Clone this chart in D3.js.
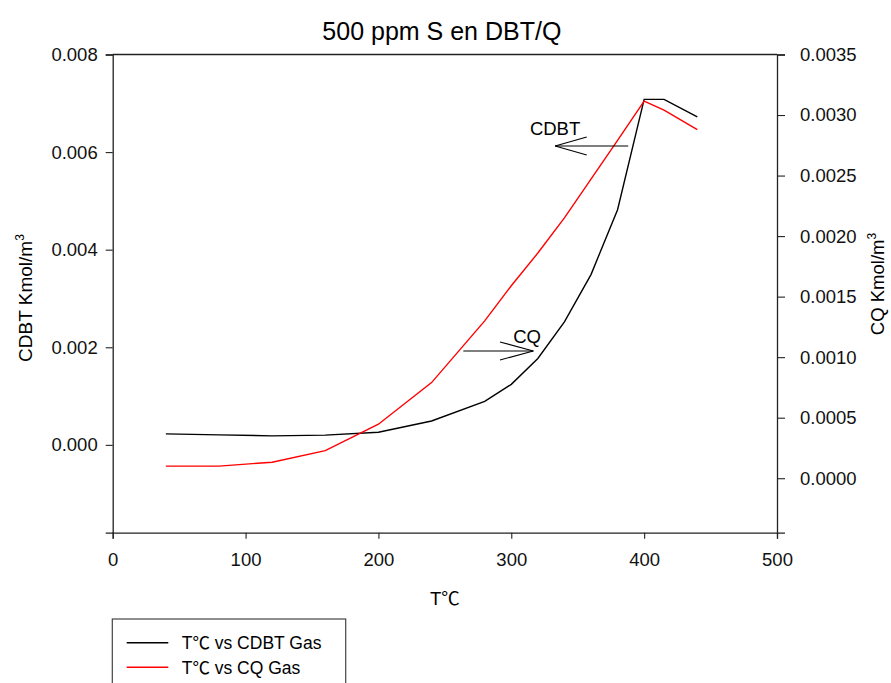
<!DOCTYPE html>
<html><head><meta charset="utf-8">
<script src="https://cdn.jsdelivr.net/npm/d3@7/dist/d3.min.js"></script>
<style>body{margin:0;background:#fff}svg{display:block;font-family:"Liberation Sans",Arial,sans-serif}.cjk{font-family:"Noto Sans CJK SC",sans-serif}</style>
</head><body>
<svg id="c" width="891" height="683"></svg>
<script>
const temps   = [40, 80, 120, 160, 200, 240, 280, 300, 320, 340, 360, 380, 400, 415, 440];
const cdbt    = [0.000225, 0.000205, 0.000185, 0.000200, 0.000260, 0.000490, 0.000890, 0.001240, 0.001770, 0.002520, 0.003490, 0.004820, 0.007080, 0.007080, 0.006720];
const cq      = [0.000100, 0.000100, 0.000132, 0.000228, 0.000446, 0.000790, 0.001300, 0.001590, 0.001860, 0.002150, 0.002470, 0.002790, 0.003115, 0.003040, 0.002880];
const xTicks  = [0, 100, 200, 300, 400, 500];
const yLTicks = [0.000, 0.002, 0.004, 0.006, 0.008];
const yRTicks = [0.0000, 0.0005, 0.0010, 0.0015, 0.0020, 0.0025, 0.0030, 0.0035];
const seriesNames = [" vs CDBT Gas", " vs CQ Gas"];

const svg = d3.select("#c");
const L = 112.7, R = 777, T = 54.5, B = 532.7;
const x  = d3.scaleLinear().domain([0, 500]).range([L, R]);
const yL = d3.scaleLinear().domain([-0.0018, 0.008]).range([B, T]);
const yR = d3.scaleLinear().domain([-0.00045, 0.0035]).range([B, T]);

const axCol = "#222";
svg.append("line").attr("x1", L).attr("x2", R).attr("y1", T).attr("y2", T).attr("stroke", axCol).attr("stroke-width", 1.3);

function styleAxis(g){
  g.select(".domain").attr("stroke", axCol).attr("stroke-width", 1.3);
  g.selectAll(".tick line").attr("stroke", axCol).attr("stroke-width", 1.1);
  g.selectAll(".tick text").attr("fill", "#111").style("font-size", "18.5px").style("font-family", '"Liberation Sans",Arial,sans-serif');
}
svg.append("g").attr("transform", `translate(0,${B})`)
  .call(d3.axisBottom(x).tickValues(xTicks).tickFormat(d3.format("d")).tickSizeOuter(0).tickSize(6).tickPadding(14))
  .call(styleAxis);
svg.append("g").attr("transform", `translate(${L},0)`)
  .call(d3.axisLeft(yL).tickValues(yLTicks).tickFormat(d3.format(".3f")).tickSizeOuter(0).tickSize(7).tickPadding(8))
  .call(styleAxis);
svg.append("g").attr("transform", `translate(${R},0)`)
  .call(d3.axisRight(yR).tickValues(yRTicks).tickFormat(d3.format(".4f")).tickSizeOuter(0).tickSize(8).tickPadding(15))
  .call(styleAxis);

const lineL = d3.line().x((d, i) => x(temps[i])).y(d => yL(d));
const lineR = d3.line().x((d, i) => x(temps[i])).y(d => yR(d));
svg.append("path").attr("d", lineL(cdbt)).attr("fill", "none").attr("stroke", "#000").attr("stroke-width", 1.4);
svg.append("path").attr("d", lineR(cq)).attr("fill", "none").attr("stroke", "#ff0000").attr("stroke-width", 1.4);

function arrow(x1, x2, xh, yPix){
  const g = svg.append("g").attr("stroke", "#000").attr("stroke-width", 1.1).attr("fill", "none");
  g.append("line").attr("x1", x1).attr("x2", x2).attr("y1", yPix).attr("y2", yPix);
  g.append("line").attr("x1", x2).attr("x2", xh).attr("y1", yPix).attr("y2", yPix - 9);
  g.append("line").attr("x1", x2).attr("x2", xh).attr("y1", yPix).attr("y2", yPix + 9);
}
arrow(x(388), x(333), x(356.8), yL(0.006125));
svg.append("text").attr("x", x(314)).attr("y", yL(0.00636)).text("CDBT").style("font-size", "18.5px");
arrow(x(263.9), x(316.6), x(291.5), yR(0.001051));
svg.append("text").attr("x", x(301.4)).attr("y", yR(0.00112)).text("CQ").style("font-size", "18.5px");

svg.append("text").attr("x", (L + R) / 2 - 3).attr("y", 40).attr("text-anchor", "middle").style("font-size", "25px").text("500 ppm S en DBT/Q");

const xl = svg.append("text").attr("x", (L + R) / 2).attr("y", 605).attr("text-anchor", "middle").style("font-size", "18.5px");
xl.append("tspan").text("T");
xl.append("tspan").attr("class", "cjk").text("\u2103");

const yl = svg.append("text").attr("transform", "translate(31.5,298) rotate(-90)").attr("text-anchor", "middle").style("font-size", "19px");
yl.append("tspan").text("CDBT Kmol/m");
yl.append("tspan").attr("dy", -8).style("font-size", "12px").text("3");
const yr = svg.append("text").attr("transform", "translate(884,284) rotate(-90)").attr("text-anchor", "middle").style("font-size", "18.5px");
yr.append("tspan").text("CQ Kmol/m");
yr.append("tspan").attr("dy", -8).style("font-size", "12px").text("3");

const lg = svg.append("g");
lg.append("rect").attr("x", 112.3).attr("y", 619).attr("width", 233.4).attr("height", 90).attr("fill", "none").attr("stroke", "#444").attr("stroke-width", 1.2);
const legColors = ["#000", "#ff0000"];
seriesNames.forEach((n, i) => {
  const yy = 642.7 + i * 24.6;
  lg.append("line").attr("x1", 126.7).attr("x2", 168.3).attr("y1", yy).attr("y2", yy).attr("stroke", legColors[i]).attr("stroke-width", 1.4);
  const t = lg.append("text").attr("x", 181.7).attr("y", yy + 6.5).style("font-size", "17.5px");
  t.append("tspan").text("T");
  t.append("tspan").attr("class", "cjk").text("\u2103");
  t.append("tspan").text(n);
});
</script>
</body></html>
